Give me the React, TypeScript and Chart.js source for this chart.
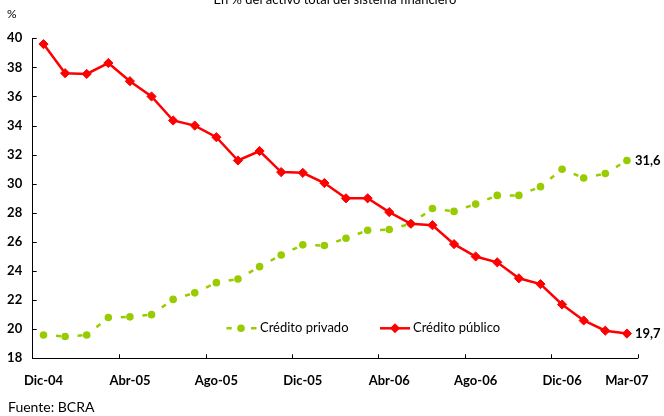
import React, { useEffect, useRef } from "react";
import { Chart, registerables } from "chart.js";

Chart.register(...registerables);

const categories = [
  "Dic-04", "Ene-05", "Feb-05", "Mar-05", "Abr-05", "May-05", "Jun-05", "Jul-05",
  "Ago-05", "Sep-05", "Oct-05", "Nov-05", "Dic-05", "Ene-06", "Feb-06", "Mar-06",
  "Abr-06", "May-06", "Jun-06", "Jul-06", "Ago-06", "Sep-06", "Oct-06", "Nov-06",
  "Dic-06", "Ene-07", "Feb-07", "Mar-07",
];

const creditoPrivado = [
  19.6, 19.5, 19.6, 20.8, 20.85, 21.0, 22.05, 22.5, 23.2, 23.45, 24.3, 25.1, 25.8, 25.75,
  26.25, 26.8, 26.85, 27.25, 28.3, 28.1, 28.6, 29.2, 29.2, 29.8, 31.0, 30.4, 30.7, 31.6,
];

const creditoPublico = [
  39.6, 37.6, 37.55, 38.3, 37.05, 36.0, 34.35, 34.0, 33.2, 31.6, 32.25, 30.8, 30.75, 30.05,
  29.0, 29.0, 28.05, 27.25, 27.15, 25.85, 25.0, 24.6, 23.5, 23.1, 21.7, 20.6, 19.9, 19.7,
];

const xTickLabels = ["Dic-04", "Abr-05", "Ago-05", "Dic-05", "Abr-06", "Ago-06", "Dic-06", "Mar-07"];
const yMin = 18;
const yMax = 40;
const yStep = 2;

const seriesNames = ["Crédito privado", "Crédito público"];
const titleText = "En % del activo total del sistema financiero";
const unitText = "%";
const sourceText = "Fuente: BCRA";

const GREEN = "#99cc00";
const RED = "#ff0000";
const FONT = "Lato, 'Open Sans', sans-serif";

const fmt = (v: number) => v.toFixed(1).replace(".", ",");

const decorPlugin = {
  id: "decor",
  afterDraw(chart: any) {
    const { ctx, chartArea } = chart;
    const x = chart.scales.x;
    const y = chart.scales.y;
    ctx.save();

    // inward tick marks
    ctx.strokeStyle = "#000";
    ctx.lineWidth = 1;
    const n = categories.length;
    const w = (chartArea.right - chartArea.left) / n;
    for (let i = 4; i <= n; i += 4) {
      const px = Math.round(x.getPixelForValue(i) - w / 2) + 0.5;
      ctx.beginPath();
      ctx.moveTo(px, chartArea.bottom);
      ctx.lineTo(px, chartArea.bottom - 4);
      ctx.stroke();
    }
    for (let v = yMin; v <= yMax; v += yStep) {
      const py = Math.round(y.getPixelForValue(v)) + 0.5;
      ctx.beginPath();
      ctx.moveTo(chartArea.left, py);
      ctx.lineTo(chartArea.left + 4, py);
      ctx.stroke();
    }

    // title (cut at top)
    ctx.fillStyle = "#000";
    ctx.font = `13px ${FONT}`;
    ctx.textAlign = "center";
    ctx.textBaseline = "alphabetic";
    ctx.fillText(titleText, 335, 4);

    // unit
    ctx.textAlign = "left";
    ctx.font = `12px ${FONT}`;
    ctx.textBaseline = "middle";
    ctx.fillText(unitText, 7, 14);

    // source
    ctx.font = `14px ${FONT}`;
    ctx.textBaseline = "alphabetic";
    ctx.fillText(sourceText, 8, 412);

    // end labels
    ctx.font = `bold 13px ${FONT}`;
    ctx.textBaseline = "middle";
    chart.data.datasets.forEach((ds: any, di: number) => {
      const meta = chart.getDatasetMeta(di);
      const last = meta.data[meta.data.length - 1];
      const val = ds.data[ds.data.length - 1];
      ctx.fillText(fmt(val), last.x + 8, last.y);
    });

    // legend
    const ly = 328.3;
    ctx.lineWidth = 2.5;
    ctx.strokeStyle = GREEN;
    ctx.beginPath();
    ctx.moveTo(226.5, ly);
    ctx.lineTo(231.7, ly);
    ctx.moveTo(251, ly);
    ctx.lineTo(256.5, ly);
    ctx.stroke();
    ctx.fillStyle = GREEN;
    ctx.beginPath();
    ctx.arc(241, ly, 3.8, 0, Math.PI * 2);
    ctx.fill();

    ctx.strokeStyle = RED;
    ctx.beginPath();
    ctx.moveTo(380, ly);
    ctx.lineTo(410, ly);
    ctx.stroke();
    ctx.fillStyle = RED;
    ctx.beginPath();
    ctx.moveTo(395, ly - 5);
    ctx.lineTo(400, ly);
    ctx.lineTo(395, ly + 5);
    ctx.lineTo(390, ly);
    ctx.closePath();
    ctx.fill();

    ctx.fillStyle = "#000";
    ctx.font = `13px ${FONT}`;
    ctx.textAlign = "left";
    ctx.textBaseline = "middle";
    ctx.fillText(seriesNames[0], 260, ly);
    ctx.fillText(seriesNames[1], 413, ly);

    ctx.restore();
  },
};

export default function App() {
  const ref = useRef<HTMLCanvasElement | null>(null);

  useEffect(() => {
    if (!ref.current) return;
    const chart = new Chart(ref.current, {
      type: "line",
      data: {
        labels: categories,
        datasets: [
          {
            label: seriesNames[0],
            data: creditoPrivado,
            borderColor: GREEN,
            backgroundColor: GREEN,
            borderWidth: 2.5,
            borderDash: [0, 12.5, 5, 100],
            pointStyle: "circle",
            pointRadius: 3.8,
            pointBorderWidth: 0,
            pointBackgroundColor: GREEN,
            tension: 0,
            order: 1,
            segment: {
              borderDash: () => [0, 12.5, 5, 100],
              borderDashOffset: (c: any) => (c.p0DataIndex % 2) * 0.001,
            },
          } as any,
          {
            label: seriesNames[1],
            data: creditoPublico,
            borderColor: RED,
            backgroundColor: RED,
            borderWidth: 2.5,
            pointStyle: "rectRot",
            pointRadius: 4.6,
            pointBorderWidth: 1,
            pointBorderColor: RED,
            pointBackgroundColor: RED,
            tension: 0,
            order: 0,
          },
        ],
      },
      options: {
        responsive: false,
        animation: false,
        layout: { padding: { left: 0, right: 22.5, top: 38.3, bottom: 0 } },
        plugins: {
          legend: { display: false },
          tooltip: { enabled: false },
          title: { display: false },
        },
        scales: {
          x: {
            type: "category",
            offset: true,
            grid: { display: false, drawTicks: false },
            border: { display: true, color: "#000", width: 1 },
            ticks: {
              autoSkip: false,
              maxRotation: 0,
              padding: 15,
              color: "#000",
              font: { family: FONT, size: 13, weight: "bold" },
              callback: (_v: any, i: number) =>
                xTickLabels.includes(categories[i]) ? categories[i] : "",
            },
            afterFit: (s: any) => {
              s.height = 57.7;
            },
          },
          y: {
            min: yMin,
            max: yMax,
            grid: { display: false, drawTicks: false },
            border: { display: true, color: "#000", width: 1 },
            ticks: {
              stepSize: yStep,
              padding: 10.5,
              color: "#000",
              font: { family: FONT, size: 13, weight: "bold" },
            },
            afterFit: (s: any) => {
              s.width = 32.7;
            },
          },
        },
      },
      plugins: [decorPlugin],
    });
    return () => chart.destroy();
  }, []);

  return (
    <div style={{ position: "absolute", left: 0, top: 0, width: 664, height: 416, background: "#fff" }}>
      <canvas ref={ref} width={664} height={416} style={{ display: "block" }} />
    </div>
  );
}
